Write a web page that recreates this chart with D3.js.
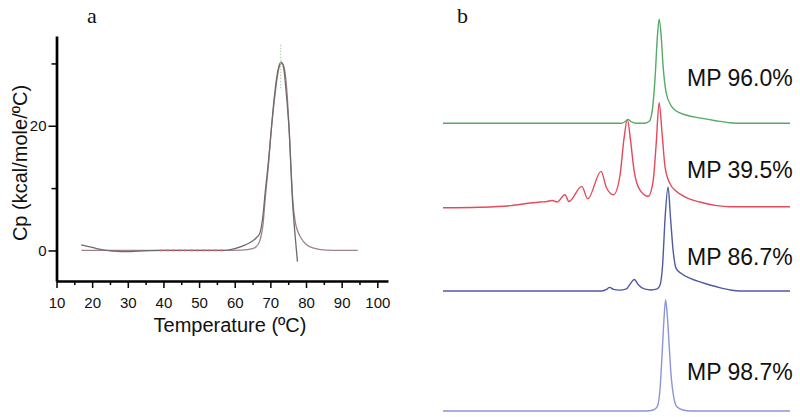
<!DOCTYPE html>
<html>
<head>
<meta charset="utf-8">
<script src="https://cdn.jsdelivr.net/npm/d3@7"></script>
<style>
  body { margin: 0; background: #fff; }
  svg { display: block; }
</style>
</head>
<body>
<svg width="800" height="417"></svg>
<script>
// ---- panel a : DSC thermogram ----
const xTicksMajor = [10, 20, 30, 40, 50, 60, 70, 80, 90, 100];
const xTicksMinor = [15, 25, 35, 45, 55, 65, 75, 85, 95];
const yTicksMajor = [0, 20];
const yTicksMinor = [10, 30];

// fitted curve
const tempFit = [17, 25, 40, 55, 62, 65, 66, 67, 68, 68.5, 69.5, 70.2, 71, 72, 72.7, 73.3, 74, 74.7, 75.3, 75.8, 76.3, 77, 77.6, 78.6, 80, 81.9, 85.6, 90, 94.5];
const cpFit   = [0, 0, 0, 0, 0.05, 0.3, 0.6, 1.5, 4.5, 8, 14, 19, 23.5, 28, 29.8, 30, 29, 25, 19, 13, 8, 4.5, 3.2, 2, 1, 0.4, 0.05, 0, 0];

// measured curve
const tempData = [16.9, 20, 22, 24, 26, 30, 33, 40, 50, 57, 60, 63, 65, 66, 67, 68, 68.5, 69.5, 70.2, 71, 72, 72.7, 73.1, 73.8, 74.5, 75.3, 76.2, 77, 77.6];
const cpData   = [0.9, 0.5, 0.2, 0, -0.1, -0.2, -0.1, 0, 0, 0, 0.3, 0.9, 1.5, 2, 2.7, 6, 9, 14.5, 19, 24, 28.5, 30, 30.2, 29, 25, 19, 8, 2, -1.8];

const dashSpan = [39, 57];      // reddish dashed stretch on the baseline
const peakTemp = 72.9;          // dotted marker at the Tm
const peakMarker = [26, 33];

// ---- panel b : chromatograms ----
const traceLabels = ["MP 96.0%", "MP 39.5%", "MP 86.7%", "MP 98.7%"];

const tGreen = [0, 18, 18.35, 18.66, 19.0, 19.5, 20.3, 20.8, 21.1, 21.4, 21.6, 21.8, 22.0, 22.2, 22.5, 23.0, 23.5, 24.5, 26, 27.5, 29, 30, 35];
const vGreen = [0, 0, 1.5, 3.8, 1.5, 0, 0, 2, 12, 45, 80, 100, 85, 55, 30, 17, 12, 8, 5, 2.5, 0.5, 0, 0];

const tRed = [0, 3.7, 6.8, 8.8, 9.8, 10.5, 11.0, 11.5, 12.3, 12.7, 14.0, 14.6, 15.94, 16.5, 17.2, 17.85, 18.25, 18.6, 18.9, 19.27, 19.87, 20.7, 21.2, 21.5, 21.8, 22.1, 22.4, 22.9, 23.5, 24.5, 25.9, 27.6, 28.9, 35];
const vRed = [-1, -0.5, 1, 3.5, 4.5, 5, 6, 4.5, 11.5, 5, 19.5, 7.5, 34, 18, 11.5, 30, 65, 84, 65, 35, 16, 10, 25, 60, 100, 70, 38, 22, 15, 9, 4.5, 1, 0, 0];

const tBlue = [0, 16, 16.5, 16.8, 17.2, 17.8, 18.5, 18.9, 19.3, 19.7, 20.3, 21.0, 21.6, 21.9, 22.15, 22.4, 22.7, 22.95, 23.2, 23.5, 24, 25, 26, 27, 28, 29, 30, 35];
const vBlue = [0, 0, 1.5, 3.5, 1.5, 0.8, 2, 7, 11, 6, 2, 1, 2, 6, 25, 70, 100, 70, 40, 22, 17, 12, 8.5, 5.5, 3, 1, 0, 0];

const tLav = [0, 20.5, 21.2, 21.6, 21.9, 22.1, 22.3, 22.45, 22.6, 22.8, 23.0, 23.3, 23.6, 24.2, 25, 35];
const vLav = [0, 0, 1, 4, 22, 55, 90, 107, 95, 65, 35, 12, 4, 1, 0, 0];

const svg = d3.select("svg");
const font = "'Liberation Sans', Arial, sans-serif";

// ================= panel a =================
const x = d3.scaleLinear().domain([10, 103]).range([56.5, 388]);
const y = d3.scaleLinear().domain([-4.9, 34.4]).range([281, 36]);

const gA = svg.append("g");

const lineA = d3.line()
    .x(d => x(d[0]))
    .y(d => y(d[1]))
    .curve(d3.curveMonotoneX);

gA.append("path")
    .datum(d3.zip(tempFit, cpFit))
    .attr("fill", "none")
    .attr("stroke", "#a08288")
    .attr("stroke-width", 1.3)
    .attr("d", lineA);

gA.append("path")
    .datum(d3.zip(tempData, cpData))
    .attr("fill", "none")
    .attr("stroke", "#6e6a6c")
    .attr("stroke-width", 1.3)
    .attr("d", lineA);

gA.append("line")
    .attr("x1", x(dashSpan[0])).attr("x2", x(dashSpan[1]))
    .attr("y1", y(0)).attr("y2", y(0))
    .attr("stroke", "#c4606c")
    .attr("stroke-width", 1.4)
    .attr("stroke-dasharray", "3,3");

gA.append("line")
    .attr("x1", x(peakTemp)).attr("x2", x(peakTemp))
    .attr("y1", y(peakMarker[1])).attr("y2", y(peakMarker[0]))
    .attr("stroke", "#a8cca8")
    .attr("stroke-width", 1)
    .attr("stroke-dasharray", "1.5,1.5");

// axes - minor ticks first, then major with labels
gA.append("g")
    .attr("transform", `translate(0,${y.range()[0]})`)
    .call(d3.axisBottom(x).tickValues(xTicksMinor).tickSize(4).tickSizeOuter(0).tickFormat(""))
    .call(g => g.select(".domain").remove())
    .call(g => g.selectAll("line").attr("stroke-width", 1.5));

gA.append("g")
    .attr("transform", `translate(${x.range()[0]},0)`)
    .call(d3.axisLeft(y).tickValues(yTicksMinor).tickSize(5).tickSizeOuter(0).tickFormat(""))
    .call(g => g.select(".domain").remove())
    .call(g => g.selectAll("line").attr("stroke-width", 1.5));

const xAxis = gA.append("g")
    .attr("transform", `translate(0,${y.range()[0]})`)
    .call(d3.axisBottom(x).tickValues(xTicksMajor).tickSize(7).tickSizeOuter(0).tickPadding(9));
xAxis.select(".domain").attr("stroke-width", 2.7);
xAxis.selectAll("line").attr("stroke-width", 1.5);
xAxis.selectAll("text").attr("font-family", font).attr("font-size", 15).attr("fill", "#111");

const yAxis = gA.append("g")
    .attr("transform", `translate(${x.range()[0]},0)`)
    .call(d3.axisLeft(y).tickValues(yTicksMajor).tickSize(8).tickSizeOuter(0).tickPadding(2));
yAxis.select(".domain").attr("stroke-width", 2.7);
yAxis.selectAll("line").attr("stroke-width", 1.5);
yAxis.selectAll("text").attr("font-family", font).attr("font-size", 15).attr("fill", "#111");

gA.append("text")
    .attr("x", 230).attr("y", 332)
    .attr("text-anchor", "middle")
    .attr("font-family", font).attr("font-size", 20).attr("fill", "#111")
    .text("Temperature (ºC)");

gA.append("text")
    .attr("transform", "translate(27,163) rotate(-90)")
    .attr("text-anchor", "middle")
    .attr("font-family", font).attr("font-size", 20).attr("fill", "#111")
    .text("Cp (kcal/mole/ºC)");

svg.append("text")
    .attr("x", 87).attr("y", 23)
    .attr("font-family", "'Liberation Serif', 'Times New Roman', serif")
    .attr("font-size", 22).attr("fill", "#111")
    .text("a");

// ================= panel b =================
const xb = d3.scaleLinear().domain([0, 35]).range([443, 790]);
const yb = d3.scaleLinear().domain([0, 100]).range([0, -104]);

const traces = [
    { t: tGreen, v: vGreen, color: "#55aa66", base: 123.3, labelY: 86 },
    { t: tRed,   v: vRed,   color: "#e34a5c", base: 206.7, labelY: 178 },
    { t: tBlue,  v: vBlue,  color: "#4d5aa6", base: 291,   labelY: 265 },
    { t: tLav,   v: vLav,   color: "#8d94d8", base: 411,   labelY: 380 }
];

const lineB = d3.line()
    .x(d => xb(d[0]))
    .y(d => yb(d[1]))
    .curve(d3.curveMonotoneX);

const gB = svg.append("g");

// draw in reverse so the upper traces sit on top, as in the figure
traces.slice().reverse().forEach(tr => {
    gB.append("path")
        .datum(d3.zip(tr.t, tr.v))
        .attr("transform", `translate(0,${tr.base})`)
        .attr("fill", "none")
        .attr("stroke", tr.color)
        .attr("stroke-width", 1.4)
        .attr("d", lineB);
});

gB.selectAll("text.mp")
    .data(traces)
    .join("text")
    .attr("class", "mp")
    .attr("x", 687)
    .attr("y", d => d.labelY)
    .attr("font-family", font)
    .attr("font-size", 23)
    .attr("fill", "#111")
    .text((d, i) => traceLabels[i]);

svg.append("text")
    .attr("x", 457).attr("y", 23)
    .attr("font-family", "'Liberation Serif', 'Times New Roman', serif")
    .attr("font-size", 22).attr("fill", "#111")
    .text("b");
</script>
</body>
</html>
